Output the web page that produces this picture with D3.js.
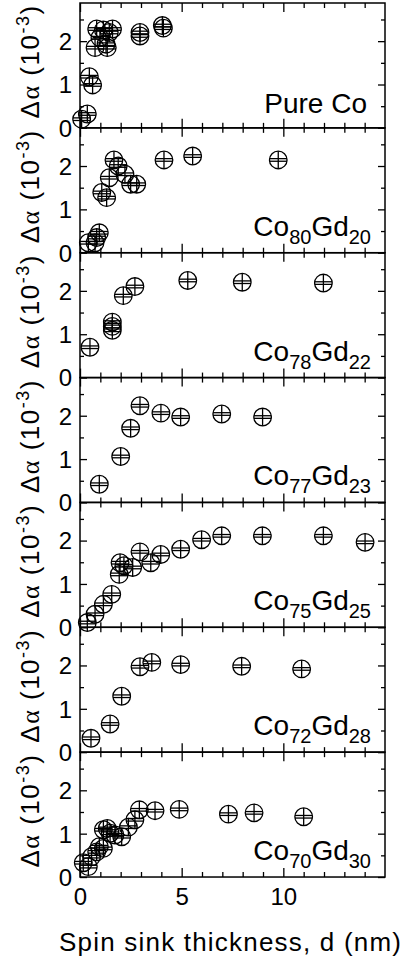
<!DOCTYPE html>
<html><head><meta charset="utf-8">
<script src="https://cdn.jsdelivr.net/npm/d3@7"></script>
<style>
html,body{margin:0;padding:0;background:#fff;}
svg{display:block;}
text{font-family:"Liberation Sans",Arial,sans-serif;fill:#000;}
</style></head>
<body>
<script>
// ---- data ----
const panelBase = ["Pure Co","Co","Co","Co","Co","Co","Co"];
const coSub = [null,"80","78","77","75","72","70"];
const gdSub = [null,"20","22","23","25","28","30"];

const dPureCo = [0.08,0.36,0.46,0.62,0.74,0.82,0.98,1.15,1.28,1.34,1.44,1.6,2.95,2.95,4.05,4.1];
const aPureCo = [0.2,0.32,1.18,0.99,1.85,2.28,2.08,2.26,1.93,1.85,2.2,2.28,2.2,2.12,2.36,2.3];

const dCo80 = [0.41,0.74,0.82,0.95,1.07,1.31,1.44,1.67,1.88,2.21,2.49,2.79,4.13,5.54,9.75];
const aCo80 = [0.23,0.23,0.35,0.46,1.39,1.27,1.73,2.14,2.0,1.81,1.58,1.58,2.14,2.23,2.14];

const dCo78 = [0.49,1.59,1.59,1.59,2.13,2.7,5.3,7.98,11.97];
const aCo78 = [0.70,1.09,1.28,1.18,1.89,2.1,2.24,2.2,2.18];

const dCo77 = [0.95,2.0,2.49,2.95,3.98,4.95,6.97,8.98];
const aCo77 = [0.42,1.06,1.71,2.23,2.06,1.97,2.04,1.97];

const dCo75 = [0.36,0.74,1.15,1.56,1.93,1.97,2.16,2.59,2.95,3.48,3.97,4.95,5.98,6.97,8.97,11.97,14.02];
const aCo75 = [0.11,0.3,0.53,0.76,1.22,1.49,1.42,1.38,1.74,1.49,1.68,1.8,2.02,2.11,2.11,2.11,1.96];

const dCo72 = [0.54,1.48,2.05,2.95,3.53,4.95,7.95,10.9];
const aCo72 = [0.32,0.65,1.29,1.97,2.07,2.02,1.98,1.92];

const dCo70 = [0.16,0.41,0.57,0.82,0.95,1.15,1.15,1.34,1.48,1.72,2.05,2.38,2.7,2.92,3.69,4.88,7.3,8.56,11.0];
const aCo70 = [0.33,0.24,0.47,0.58,0.7,0.66,1.09,1.12,1.01,0.97,0.93,1.15,1.32,1.55,1.53,1.56,1.45,1.48,1.39];

const seriesD = [dPureCo,dCo80,dCo78,dCo77,dCo75,dCo72,dCo70];
const seriesA = [aPureCo,aCo80,aCo78,aCo77,aCo75,aCo72,aCo70];

const yMajor = [0,1,2];
const yMinor = [0.5,1.5,2.5];
const xMajor = [0,5,10];
const xMinor = [1,2,3,4,6,7,8,9,11,12,13,14];
const xLabel = "Spin sink thickness, d (nm)";

// ---- layout ----
const W = 406, H = 966;
const left = 80, right = 385, top0 = 3, panelH = 124.86;
const svg = d3.select("body").append("svg").attr("width",W).attr("height",H);

const x = d3.scaleLinear().domain([0,15]).range([left,right]);

seriesD.forEach((ds,i)=>{
  const t = top0 + i*panelH, b = t + panelH;
  const y = d3.scaleLinear().domain([0,2.88]).range([b,t]);
  const g = svg.append("g");

  // markers
  const mg = g.append("g");
  ds.forEach((d,j)=>{
    const cx = x(d), cy = y(seriesA[i][j]), r = 8.8;
    const m = mg.append("g").attr("fill","none").attr("stroke","#000").attr("stroke-width",1.3);
    m.append("circle").attr("cx",cx).attr("cy",cy).attr("r",r);
    m.append("line").attr("x1",cx).attr("x2",cx).attr("y1",cy-r).attr("y2",cy+r);
    m.append("line").attr("x1",cx-r).attr("x2",cx+r).attr("y1",cy-1.3).attr("y2",cy-1.3);
    m.append("line").attr("x1",cx-r).attr("x2",cx+r).attr("y1",cy+1.3).attr("y2",cy+1.3);
  });

  // axes
  const yl = g.append("g").attr("transform",`translate(${left},0)`)
    .call(d3.axisLeft(y).tickValues(yMajor).tickSize(-7).tickPadding(8).tickFormat(d3.format("d")));
  g.append("g").attr("transform",`translate(${left},0)`)
    .call(d3.axisLeft(y).tickValues(yMinor).tickSize(-4).tickFormat(""));
  g.append("g").attr("transform",`translate(${right},0)`)
    .call(d3.axisRight(y).tickValues(yMajor).tickSize(-7).tickFormat(""));
  g.append("g").attr("transform",`translate(${right},0)`)
    .call(d3.axisRight(y).tickValues(yMinor).tickSize(-4).tickFormat(""));
  const xb = g.append("g").attr("transform",`translate(0,${b})`)
    .call(d3.axisBottom(x).tickValues(xMajor).tickSize(-9).tickPadding(10).tickFormat(i===6? d3.format("d") : ""));
  g.append("g").attr("transform",`translate(0,${b})`)
    .call(d3.axisBottom(x).tickValues(xMinor).tickSize(-5).tickFormat(""));
  g.append("g").attr("transform",`translate(0,${t})`)
    .call(d3.axisTop(x).tickValues(xMajor).tickSize(-9).tickFormat(""));
  g.append("g").attr("transform",`translate(0,${t})`)
    .call(d3.axisTop(x).tickValues(xMinor).tickSize(-5).tickFormat(""));
  g.selectAll(".domain").remove();
  g.selectAll(".tick line").attr("stroke","#000").attr("stroke-width",1.3);
  g.selectAll(".tick text").attr("font-size",24).attr("font-family","Liberation Sans, Arial, sans-serif").attr("fill","#000");
  yl.selectAll(".tick text").attr("dy","0.35em");
  xb.selectAll(".tick text").attr("dy","0.75em");

  // frame
  g.append("rect").attr("x",left).attr("y",t).attr("width",right-left).attr("height",panelH)
    .attr("fill","none").attr("stroke","#000").attr("stroke-width",1.5);

  // panel label
  const lab = g.append("text").attr("text-anchor","end").attr("font-size",28)
    .attr("x", i===0 ? 367 : 371).attr("y", b - (i===0 ? 15 : 17));
  if (i===0) {
    lab.text(panelBase[0]);
  } else {
    lab.append("tspan").text("Co");
    lab.append("tspan").attr("font-size",20).attr("dy",8).text(coSub[i]);
    lab.append("tspan").attr("dy",-8).text("Gd");
    lab.append("tspan").attr("font-size",20).attr("dy",8).text(gdSub[i]);
  }

  // y label
  const ylab = g.append("text").attr("text-anchor","middle").attr("font-size",26)
    .attr("letter-spacing",1.5)
    .attr("transform",`translate(39,${(t+b)/2 - 4}) rotate(-90)`);
  ylab.append("tspan").text("Δ");
  ylab.append("tspan").attr("font-family","Liberation Serif, serif").text("α");
  ylab.append("tspan").text(" (10");
  ylab.append("tspan").attr("font-size",18).attr("dy",-10).text("-3");
  ylab.append("tspan").attr("dy",10).text(")");
});

svg.append("text").attr("x",59).attr("y",951).attr("text-anchor","start")
  .attr("font-size",26).attr("textLength",342).attr("lengthAdjust","spacing").text(xLabel);
</script>
</body></html>
